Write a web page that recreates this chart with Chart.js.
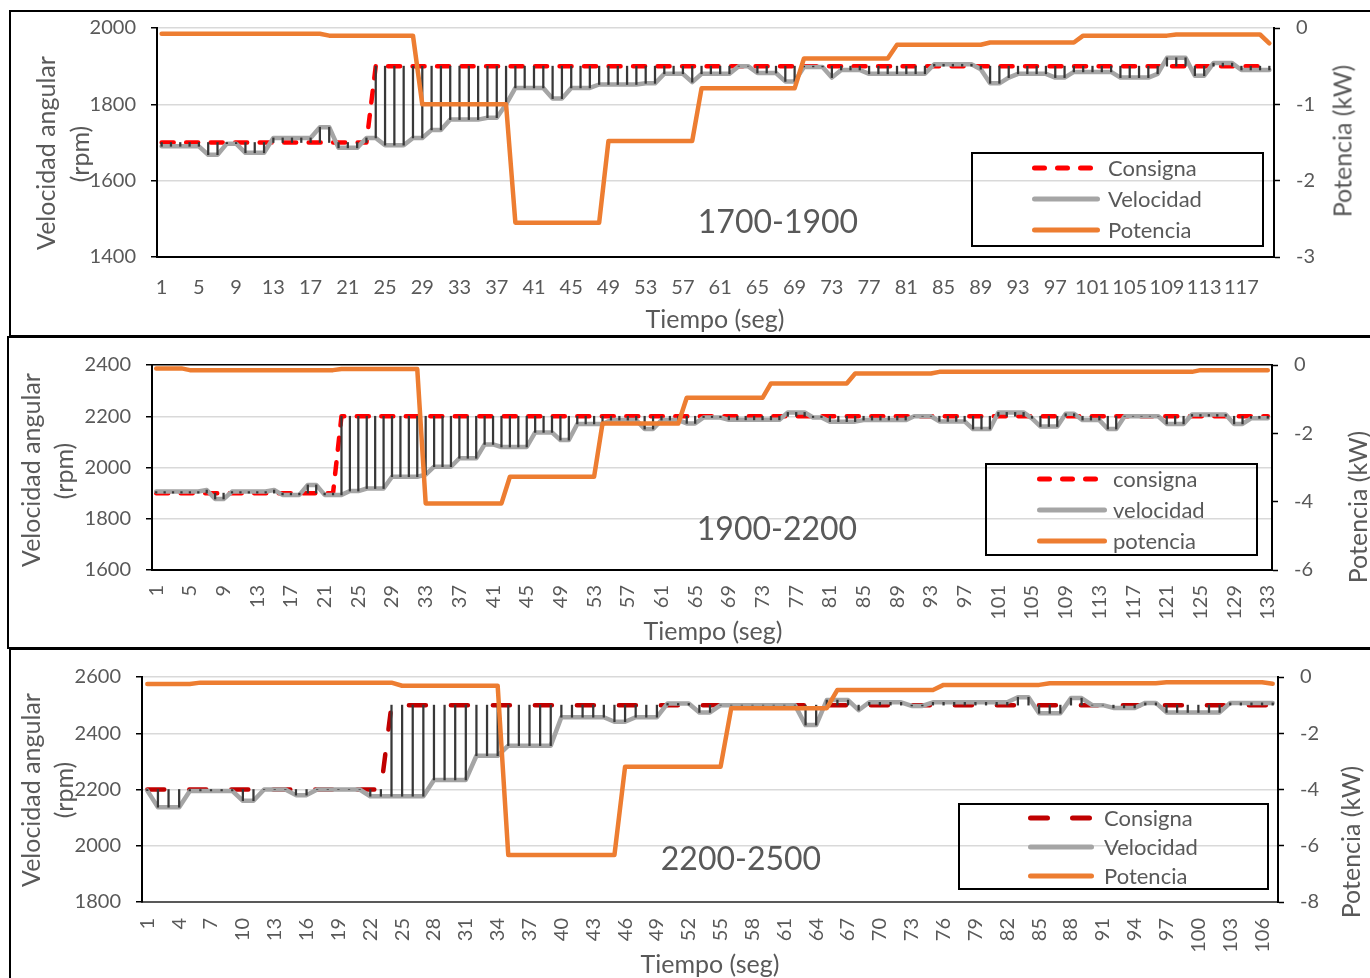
<!DOCTYPE html>
<html><head><meta charset="utf-8">
<script src="https://cdn.jsdelivr.net/npm/chart.js@4.4.1/dist/chart.umd.min.js"></script>
<style>
html,body{margin:0;padding:0;background:#fff;}
body{width:1370px;height:978px;overflow:hidden;position:relative;font-family:Lato,"Open Sans",sans-serif;}
canvas{position:absolute;}
.frame{position:absolute;border:2px solid #000;box-sizing:border-box;}
.t{position:absolute;color:#595959;white-space:nowrap;font-family:Lato,"Open Sans",sans-serif;line-height:1;}
.v{transform:translate(-50%,-50%) rotate(-90deg);}
.c{transform:translate(-50%,-50%);}
.l{transform:translateY(-50%);}
.lg{position:absolute;border:2px solid #000;box-sizing:border-box;}
svg{position:absolute;overflow:visible;}
</style>
</head><body>
<div class="frame" style="left:9px;top:10px;width:1400px;height:327px;"></div>
<div class="frame" style="left:7px;top:336px;width:1400px;height:313px;"></div>
<div class="frame" style="left:9px;top:648px;width:1400px;height:400px;"></div>
<script>
const FONT = 'Lato, "Open Sans", sans-serif';

// ---------- Panel 1 : 1700-1900 ----------
const cats1 = Array.from({length:120},(_,i)=>String(i+1));
const consigna1 = [
1700,1700,1700,1700,1700,1700,1700,1700,1700,1700,
1700,1700,1700,1700,1700,1700,1700,1700,1700,1700,
1700,1700,1700,1900,1900,1900,1900,1900,1900,1900,
1900,1900,1900,1900,1900,1900,1900,1900,1900,1900,
1900,1900,1900,1900,1900,1900,1900,1900,1900,1900,
1900,1900,1900,1900,1900,1900,1900,1900,1900,1900,
1900,1900,1900,1900,1900,1900,1900,1900,1900,1900,
1900,1900,1900,1900,1900,1900,1900,1900,1900,1900,
1900,1900,1900,1900,1900,1900,1900,1900,1900,1900,
1900,1900,1900,1900,1900,1900,1900,1900,1900,1900,
1900,1900,1900,1900,1900,1900,1900,1900,1900,1900,
1900,1900,1900,1900,1900,1900,1900,1900,1900,1900];
const velocidad1 = [
1690,1690,1690,1690,1690,1668,1668,1697,1697,1673,
1673,1673,1712,1712,1712,1712,1712,1740,1740,1686,
1686,1686,1712,1712,1693,1693,1693,1712,1712,1733,
1733,1760,1760,1760,1760,1765,1765,1800,1843,1843,
1843,1843,1815,1815,1843,1843,1843,1852,1852,1852,
1852,1852,1855,1855,1880,1880,1880,1858,1880,1880,
1880,1880,1900,1900,1882,1882,1882,1860,1860,1898,
1898,1898,1870,1890,1890,1890,1880,1880,1880,1880,
1880,1880,1880,1905,1905,1905,1905,1905,1892,1855,
1855,1870,1880,1880,1880,1880,1870,1870,1885,1885,
1885,1885,1885,1870,1870,1870,1870,1880,1922,1922,
1922,1875,1875,1908,1908,1908,1890,1890,1890,1890];
const potencia1 = [
-0.075,-0.075,-0.075,-0.075,-0.075,-0.075,-0.075,-0.075,-0.075,-0.075,
-0.075,-0.075,-0.075,-0.075,-0.075,-0.075,-0.075,-0.075,-0.1,-0.1,
-0.1,-0.1,-0.1,-0.1,-0.1,-0.1,-0.1,-0.1,-1,-1,
-1,-1,-1,-1,-1,-1,-1,-1,-2.55,-2.55,
-2.55,-2.55,-2.55,-2.55,-2.55,-2.55,-2.55,-2.55,-1.48,-1.48,
-1.48,-1.48,-1.48,-1.48,-1.48,-1.48,-1.48,-1.48,-0.79,-0.79,
-0.79,-0.79,-0.79,-0.79,-0.79,-0.79,-0.79,-0.79,-0.79,-0.4,
-0.4,-0.4,-0.4,-0.4,-0.4,-0.4,-0.4,-0.4,-0.4,-0.22,
-0.22,-0.22,-0.22,-0.22,-0.22,-0.22,-0.22,-0.22,-0.22,-0.19,
-0.19,-0.19,-0.19,-0.19,-0.19,-0.19,-0.19,-0.19,-0.19,-0.1,
-0.1,-0.1,-0.1,-0.1,-0.1,-0.1,-0.1,-0.1,-0.1,-0.085,
-0.085,-0.085,-0.085,-0.085,-0.085,-0.085,-0.085,-0.085,-0.085,-0.2];

// ---------- Panel 2 : 1900-2200 ----------
const cats2 = Array.from({length:133},(_,i)=>String(i+1));
const consigna2 = [
1900,1900,1900,1900,1900,1900,1900,1900,1900,1900,
1900,1900,1900,1900,1900,1900,1900,1900,1900,1900,
1900,1900,2200,2200,2200,2200,2200,2200,2200,2200,
2200,2200,2200,2200,2200,2200,2200,2200,2200,2200,
2200,2200,2200,2200,2200,2200,2200,2200,2200,2200,
2200,2200,2200,2200,2200,2200,2200,2200,2200,2200,
2200,2200,2200,2200,2200,2200,2200,2200,2200,2200,
2200,2200,2200,2200,2200,2200,2200,2200,2200,2200,
2200,2200,2200,2200,2200,2200,2200,2200,2200,2200,
2200,2200,2200,2200,2200,2200,2200,2200,2200,2200,
2200,2200,2200,2200,2200,2200,2200,2200,2200,2200,
2200,2200,2200,2200,2200,2200,2200,2200,2200,2200,
2200,2200,2200,2200,2200,2200,2200,2200,2200,2200,
2200,2200,2200];
const velocidad2 = [
1906,1906,1906,1906,1906,1906,1912,1877,1877,1906,
1906,1906,1906,1906,1912,1893,1893,1893,1932,1932,
1893,1893,1893,1908,1908,1918,1918,1918,1964,1964,
1964,1964,1972,2003,2003,2003,2036,2036,2036,2090,
2090,2080,2080,2080,2080,2137,2137,2137,2107,2107,
2170,2170,2170,2170,2185,2185,2185,2185,2150,2150,
2185,2185,2185,2172,2172,2195,2195,2195,2186,2186,
2186,2186,2186,2186,2186,2215,2215,2215,2195,2195,
2179,2179,2179,2179,2185,2185,2185,2185,2185,2185,
2200,2200,2200,2180,2180,2180,2180,2150,2150,2150,
2215,2215,2215,2215,2192,2160,2160,2160,2210,2210,
2185,2185,2185,2150,2150,2200,2200,2200,2200,2200,
2170,2170,2170,2207,2207,2207,2207,2207,2170,2170,
2192,2192,2192];
const potencia2 = [
-0.1,-0.1,-0.1,-0.1,-0.15,-0.15,-0.15,-0.15,-0.15,-0.15,
-0.15,-0.15,-0.15,-0.15,-0.15,-0.15,-0.15,-0.15,-0.15,-0.15,
-0.15,-0.15,-0.12,-0.12,-0.12,-0.12,-0.12,-0.12,-0.12,-0.12,
-0.12,-0.12,-4.05,-4.05,-4.05,-4.05,-4.05,-4.05,-4.05,-4.05,
-4.05,-4.05,-3.27,-3.27,-3.27,-3.27,-3.27,-3.27,-3.27,-3.27,
-3.27,-3.27,-3.27,-1.71,-1.71,-1.71,-1.71,-1.71,-1.71,-1.71,
-1.71,-1.71,-1.71,-0.96,-0.96,-0.96,-0.96,-0.96,-0.96,-0.96,
-0.96,-0.96,-0.96,-0.54,-0.54,-0.54,-0.54,-0.54,-0.54,-0.54,
-0.54,-0.54,-0.54,-0.25,-0.25,-0.25,-0.25,-0.25,-0.25,-0.25,
-0.25,-0.25,-0.25,-0.2,-0.2,-0.2,-0.2,-0.2,-0.2,-0.2,
-0.2,-0.2,-0.2,-0.2,-0.2,-0.2,-0.2,-0.2,-0.2,-0.2,
-0.2,-0.2,-0.2,-0.2,-0.2,-0.2,-0.2,-0.2,-0.2,-0.2,
-0.2,-0.2,-0.2,-0.2,-0.15,-0.15,-0.15,-0.15,-0.15,-0.15,
-0.15,-0.15,-0.15];

// ---------- Panel 3 : 2200-2500 ----------
const cats3 = Array.from({length:107},(_,i)=>String(i+1));
const consigna3 = [
2200,2200,2200,2200,2200,2200,2200,2200,2200,2200,
2200,2200,2200,2200,2200,2200,2200,2200,2200,2200,
2200,2200,2200,2500,2500,2500,2500,2500,2500,2500,
2500,2500,2500,2500,2500,2500,2500,2500,2500,2500,
2500,2500,2500,2500,2500,2500,2500,2500,2500,2500,
2500,2500,2500,2500,2500,2500,2500,2500,2500,2500,
2500,2500,2500,2500,2500,2500,2500,2500,2500,2500,
2500,2500,2500,2500,2500,2500,2500,2500,2500,2500,
2500,2500,2500,2500,2500,2500,2500,2500,2500,2500,
2500,2500,2500,2500,2500,2500,2500,2500,2500,2500,
2500,2500,2500,2500,2500,2500,2500];
const velocidad3 = [
2196,2137,2137,2137,2195,2195,2195,2195,2195,2160,
2160,2200,2200,2200,2180,2180,2200,2200,2200,2200,
2200,2176,2176,2176,2176,2176,2176,2234,2234,2234,
2234,2320,2320,2320,2356,2356,2356,2356,2356,2457,
2457,2457,2457,2457,2441,2441,2457,2457,2457,2506,
2506,2506,2474,2474,2500,2500,2500,2500,2500,2500,
2500,2500,2429,2429,2518,2518,2518,2482,2510,2510,
2510,2510,2497,2497,2510,2510,2510,2510,2510,2510,
2510,2510,2528,2528,2471,2471,2471,2525,2525,2500,
2500,2490,2490,2490,2508,2508,2474,2474,2474,2474,
2474,2474,2508,2508,2508,2508,2508];
const potencia3 = [
-0.25,-0.25,-0.25,-0.25,-0.25,-0.2,-0.2,-0.2,-0.2,-0.2,
-0.2,-0.2,-0.2,-0.2,-0.2,-0.2,-0.2,-0.2,-0.2,-0.2,
-0.2,-0.2,-0.2,-0.2,-0.31,-0.31,-0.31,-0.31,-0.31,-0.31,
-0.31,-0.31,-0.31,-0.31,-6.33,-6.33,-6.33,-6.33,-6.33,-6.33,
-6.33,-6.33,-6.33,-6.33,-6.33,-3.19,-3.19,-3.19,-3.19,-3.19,
-3.19,-3.19,-3.19,-3.19,-3.19,-1.11,-1.11,-1.11,-1.11,-1.11,
-1.11,-1.11,-1.11,-1.11,-1.11,-0.46,-0.46,-0.46,-0.46,-0.46,
-0.46,-0.46,-0.46,-0.46,-0.46,-0.28,-0.28,-0.28,-0.28,-0.28,
-0.28,-0.28,-0.28,-0.28,-0.28,-0.22,-0.22,-0.22,-0.22,-0.22,
-0.22,-0.22,-0.22,-0.22,-0.22,-0.22,-0.19,-0.19,-0.19,-0.19,
-0.19,-0.19,-0.19,-0.19,-0.19,-0.19,-0.24];

const legend1 = ['Consigna','Velocidad','Potencia'];
const legend2 = ['consigna','velocidad','potencia'];
const legend3 = ['Consigna','Velocidad','Potencia'];

function makePanel(p){
  const cv = document.createElement('canvas');
  cv.width = 1370; cv.height = p.ch;
  cv.style.left = '0px'; cv.style.top = p.ctop + 'px';
  cv.style.width = '1370px'; cv.style.height = p.ch + 'px';
  document.body.appendChild(cv);
  const WL = 80, WR = 70, HX = 70;
  const hl = p.vel.map((v,i)=>[Math.min(v,p.cons[i]), Math.max(v,p.cons[i])]);
  const gridCol = (ctx) => {
    if (!ctx.tick) return '#d9d9d9';
    if (ctx.tick.value === p.yMin) return 'rgba(0,0,0,0)';
    if (p.topBlack && ctx.tick.value === p.yMax) return '#000';
    return '#d9d9d9';
  };
  const tickFont = {family: FONT, size: 20};
  new Chart(cv, {
    type: 'line',
    data: {
      labels: p.cats,
      datasets: [
        {type:'line', label:p.names[2], data:p.pot, yAxisID:'y1', borderColor:'#ED7D31', backgroundColor:'#ED7D31',
         borderWidth:4.5, pointRadius:0, tension:0, borderJoinStyle:'round', borderCapStyle:'round', order:0},
        {type:'bar', label:'hl', data:hl, yAxisID:'y', backgroundColor:'#383838', borderWidth:0,
         barThickness:1.6, order:1},
        {type:'line', label:p.names[1], data:p.vel, yAxisID:'y', borderColor:'#A5A5A5', backgroundColor:'#A5A5A5',
         borderWidth:4.5, pointRadius:0, tension:0, borderJoinStyle:'round', borderCapStyle:'round', order:2},
        {type:'line', label:p.names[0], data:p.cons, yAxisID:'y', borderColor:p.consColor, backgroundColor:p.consColor,
         borderWidth:4.5, pointRadius:0, tension:0, borderDash:p.dash, borderJoinStyle:'round', borderCapStyle:'round', order:3}
      ]
    },
    options: {
      responsive:false, animation:false, devicePixelRatio:1,
      layout:{padding:{left:p.L-WL, right:1370-p.R-WR, top:p.T-p.ctop, bottom:p.ctop+p.ch-p.B-HX}},
      plugins:{legend:{display:false}, tooltip:{enabled:false}},
      scales:{
        x:{type:'category', offset:true,
           grid:{display:false, drawTicks:false, offset:true},
           border:{display:true, color:p.xAxisColor, width:2},
           ticks:{autoSkip:false, maxRotation:p.rot, minRotation:p.rot, padding:p.xpad, color:'#595959', font:tickFont,
                  callback:function(v,i){ return i % p.every === 0 ? this.getLabelForValue(v) : ''; }},
           afterFit:(s)=>{ s.height = HX; }},
        y:{position:'left', min:p.yMin, max:p.yMax,
           ticks:{stepSize:p.yStep, padding:15, color:'#595959', font:tickFont, callback:(v)=>String(v)},
           grid:{color:gridCol, lineWidth:1.5, tickColor:'#000', tickLength:6, tickWidth:1.5},
           border:{color:'#000', width:2},
           afterFit:(s)=>{ s.width = WL; }},
        y1:{position:'right', min:p.pMin, max:0,
           ticks:{stepSize:p.pStep, padding:16, color:'#595959', font:tickFont, callback:(v)=>String(v)},
           grid:{drawOnChartArea:false, tickColor:'#000', tickLength:6, tickWidth:1.5},
           border:{color:'#000', width:2},
           afterFit:(s)=>{ s.width = WR; }}
      }
    }
  });
}

makePanel({ctop:0, ch:336, L:157, R:1274, T:26, B:257, cats:cats1, cons:consigna1, vel:velocidad1, pot:potencia1,
  names:legend1, consColor:'#FF0000', dash:[12,12.5], yMin:1400, yMax:2000, yStep:200, pMin:-3, pStep:1,
  rot:0, every:4, xpad:19, xAxisColor:'#000', topBlack:false});
makePanel({ctop:337, ch:311, L:152, R:1272, T:365, B:570, cats:cats2, cons:consigna2, vel:velocidad2, pot:potencia2,
  names:legend2, consColor:'#FF0000', dash:[12,12.5], yMin:1600, yMax:2400, yStep:200, pMin:-6, pStep:2,
  rot:90, every:4, xpad:15, xAxisColor:'#000', topBlack:true});
makePanel({ctop:649, ch:329, L:142, R:1278, T:677, B:902, cats:cats3, cons:consigna3, vel:velocidad3, pot:potencia3,
  names:legend3, consColor:'#C00000', dash:[17,25], yMin:1800, yMax:2600, yStep:200, pMin:-8, pStep:2,
  rot:90, every:3, xpad:16, xAxisColor:'#595959', topBlack:false});

// ---------- text overlays ----------
function txt(s, x, y, size, cls){
  const d = document.createElement('div');
  d.className = 't ' + cls;
  d.style.left = x + 'px'; d.style.top = y + 'px'; d.style.fontSize = size + 'px';
  d.textContent = s;
  document.body.appendChild(d);
}
function sample(x1, x2, y, color, dash){
  const ns = 'http://www.w3.org/2000/svg';
  const s = document.createElementNS(ns, 'svg');
  s.setAttribute('width', '1'); s.setAttribute('height', '1');
  s.style.left = '0px'; s.style.top = '0px';
  const l = document.createElementNS(ns, 'line');
  l.setAttribute('x1', x1); l.setAttribute('x2', x2); l.setAttribute('y1', y); l.setAttribute('y2', y);
  l.setAttribute('stroke', color); l.setAttribute('stroke-width', '5'); l.setAttribute('stroke-linecap', 'round');
  if (dash) l.setAttribute('stroke-dasharray', dash);
  s.appendChild(l);
  document.body.appendChild(s);
}
function legendBox(x, y, w, h, rows, sx1, sx2, tx, names, consColor, dash){
  const b = document.createElement('div');
  b.className = 'lg';
  b.style.left = x + 'px'; b.style.top = y + 'px'; b.style.width = w + 'px'; b.style.height = h + 'px';
  document.body.appendChild(b);
  sample(sx1 + 2.5, sx2, rows[0], consColor, dash);
  sample(sx1 + 2.5, sx2 - 2.5, rows[1], '#A5A5A5');
  sample(sx1 + 2.5, sx2 - 2.5, rows[2], '#ED7D31');
  names.forEach((n,i)=>txt(n, tx, rows[i], 22, 'l'));
}

// panel 1
txt('Velocidad angular', 45, 153, 25, 'v');
txt('(rpm)', 79, 154, 25, 'v');
txt('Potencia (kW)', 1342, 141, 25, 'v');
txt('Tiempo (seg)', 715, 318, 25, 'c');
txt('1700-1900', 778, 221, 32, 'c');
legendBox(971, 152, 293, 95, [168,199,230], 1032, 1100, 1108, legend1, '#FF0000', '10 13');
// panel 2
txt('Velocidad angular', 30, 470, 25, 'v');
txt('(rpm)', 63, 471, 25, 'v');
txt('Potencia (kW)', 1357, 507, 25, 'v');
txt('Tiempo (seg)', 713, 630, 25, 'c');
txt('1900-2200', 777, 528, 32, 'c');
legendBox(985, 463, 273, 93, [479,510,541], 1037, 1107, 1113, legend2, '#FF0000', '10 13');
// panel 3
txt('Velocidad angular', 30, 790, 25, 'v');
txt('(rpm)', 63, 790, 25, 'v');
txt('Potencia (kW)', 1350, 842, 25, 'v');
txt('Tiempo (seg)', 710, 963, 25, 'c');
txt('2200-2500', 741, 858, 32, 'c');
legendBox(958, 803, 311, 87, [818,847,876], 1028, 1094, 1104, legend3, '#C00000', '17 25');
</script>
</body></html>
